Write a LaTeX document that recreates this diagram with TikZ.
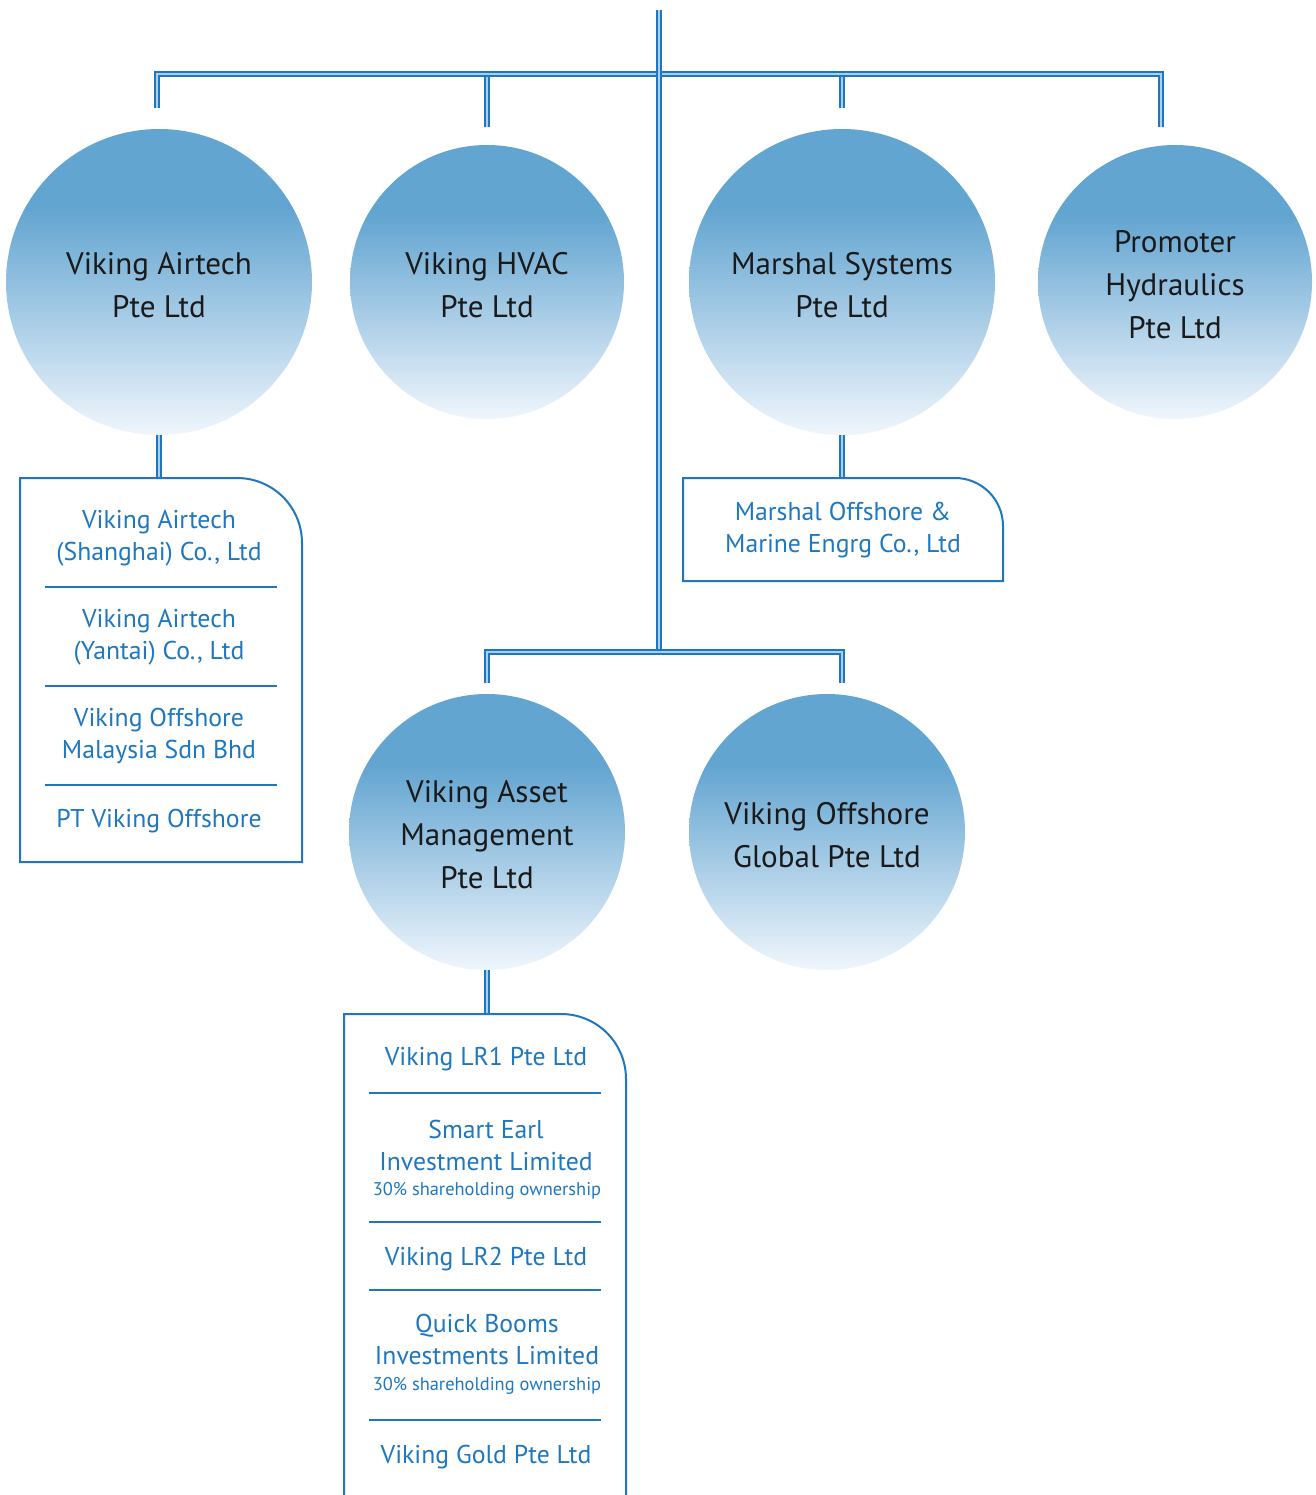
\documentclass[tikz,border=0pt]{standalone}
\usepackage{fontspec}
\setmainfont{PT Sans}
\definecolor{lblue}{HTML}{1F78BF}
\definecolor{linner}{HTML}{A9D1EE}
\definecolor{ctop}{HTML}{63A5D1}
\definecolor{cbot}{HTML}{F0F6FC}
\definecolor{ctxt}{HTML}{1A1A1A}
\pgfdeclareverticalshading{circshade}{100bp}{color(0bp)=(cbot); color(25bp)=(cbot); color(62bp)=(ctop); color(75bp)=(ctop); color(100bp)=(ctop)}
\begin{document}
\begin{tikzpicture}[x=0.75pt,y=-0.75pt,
  dbl/.style={draw=lblue,line width=1.4pt,double=linner,double distance=1.7pt},
  boxline/.style={draw=lblue,line width=1.5pt},
  sep/.style={draw=lblue,line width=1.1pt},
  comp/.style={circle,shading=circshade,draw=none,inner sep=0pt},
  ctext/.style={text=ctxt,align=center,font=\fontsize{23.3}{32.25}\selectfont,inner sep=0pt},
  big/.style={comp,minimum size=229.5pt},
  small/.style={comp,minimum size=205.5pt},
  sub/.style={text=lblue,align=center,font=\fontsize{19.3}{24}\selectfont,inner sep=0pt},
  note/.style={text=lblue,align=center,font=\fontsize{13.8}{16}\selectfont,inner sep=0pt}]
\useasboundingbox (0,0) rectangle (1316,1495);
\fill[white] (0,0) rectangle (1316,1495);

% circles
\node[big]   (c1) at (159,282) {};
\node[small] (c2) at (487,282) {};
\node[big]   (c3) at (842,282) {};
\node[small] (c4) at (1175,282) {};
\node[comp,minimum size=207pt] (c5) at (487,832) {};
\node[comp,minimum size=207pt] (c6) at (827,832) {};
\node[ctext] (l1) at (159,285.5) {Viking Airtech\\Pte Ltd};
\node[ctext] (l2) at (487,285.5) {Viking HVAC\\Pte Ltd};
\node[ctext] (l3) at (842,285.5) {Marshal Systems\\Pte Ltd};
\node[ctext] (l4) at (1175,285) {Promoter\\Hydraulics\\Pte Ltd};
\node[ctext] (l5) at (487,835) {Viking Asset\\Management\\Pte Ltd};
\node[ctext] (l6) at (827,835.5) {Viking Offshore\\Global Pte Ltd};

% top connectors
\coordinate (top) at (659,10);
\coordinate (j1) at (659,652);
\coordinate (t1) at (157,108);
\coordinate (t2) at (487,127);
\coordinate (t3) at (842,108);
\coordinate (t4) at (1161,127);
\draw[dbl] (t2) -- (t2 |- 0,74);
\draw[dbl] (t3) -- (t3 |- 0,74);
\draw[dbl] (t1) -- (t1 |- 0,74) -- (t4 |- 0,74) -- (t4);
\draw[dbl] (top) -- (j1);
\coordinate (t5) at (487,683);
\coordinate (t6) at (842,683);
\draw[dbl] (t5) -- (t5 |- j1) -- (t6 |- j1) -- (t6);

% box 1
\coordinate (b1) at (159,478);
\draw[dbl] (c1.south) -- (b1);
\draw[boxline] (20,862) -- (20,478) -- (237,478) .. controls (273,478) and (302,507) .. (302,543) -- (302,862) -- cycle;
\draw[sep] (45,587) -- (277,587);
\draw[sep] (45,686) -- (277,686);
\draw[sep] (45,785) -- (277,785);
\node[sub] (s11) at (159,538) {Viking Airtech\\(Shanghai) Co., Ltd};
\node[sub] (s12) at (159,637) {Viking Airtech\\(Yantai) Co., Ltd};
\node[sub] (s13) at (159,736) {Viking Offshore\\Malaysia Sdn Bhd};
\node[sub] (s14) at (159,821) {PT Viking Offshore};

% box 2
\coordinate (b2) at (842,478);
\draw[dbl] (c3.south) -- (b2);
\draw[boxline] (683,581) -- (683,478) -- (955,478) .. controls (981.5,478) and (1003,499.5) .. (1003,526) -- (1003,581) -- cycle;
\node[sub] (s21) at (843,530) {Marshal Offshore \&\\Marine Engrg Co., Ltd};

% box 3
\coordinate (b3) at (487,1014);
\draw[dbl] (c5.south) -- (b3);
\draw[boxline] (344,1500) -- (344,1014) -- (561,1014) .. controls (597,1014) and (626,1043) .. (626,1079) -- (626,1500);
\draw[sep] (369,1093) -- (601,1093);
\draw[sep] (369,1222) -- (601,1222);
\draw[sep] (369,1290) -- (601,1290);
\draw[sep] (369,1420) -- (601,1420);
\node[sub] (s31) at (486,1059) {Viking LR1 Pte Ltd};
\node[sub] (s32) at (486,1145) {Smart Earl\\Investment Limited};
\node[note] (n32) at (487,1190.5) {30\% shareholding ownership};
\node[sub] (s33) at (486,1259) {Viking LR2 Pte Ltd};
\node[sub] (s34) at (487,1339) {Quick Booms\\Investments Limited};
\node[note] (n34) at (487,1385.5) {30\% shareholding ownership};
\node[sub] (s35) at (486,1457) {Viking Gold Pte Ltd};
\end{tikzpicture}
\end{document}
